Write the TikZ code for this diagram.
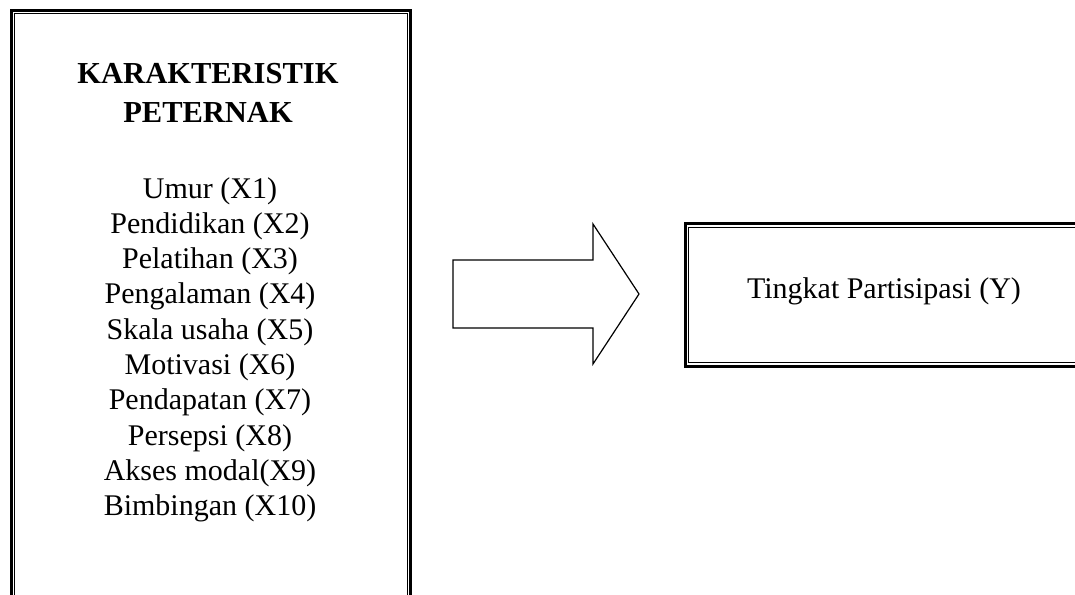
\documentclass[tikz,border=0pt]{standalone}
\usepackage{fontspec}
\setmainfont{Liberation Serif}
\begin{document}
\begin{tikzpicture}[x=1pt,y=-1pt,
  outerline/.style={line width=3pt},
  innerline/.style={line width=1pt},
  itemtext/.style={font=\fontsize{30}{34}\selectfont, anchor=base, inner sep=0pt},
  titletext/.style={font=\bfseries\fontsize{30.5}{42}\selectfont, anchor=base, inner sep=0pt},
  blockarrow/.style={line width=1.2pt, line join=miter}]
  \useasboundingbox (0,0) rectangle (1075,594);

  % left box: thick outer frame with a thin frame inside
  \node[outerline, draw, minimum width=399.5pt, minimum height=588pt, inner sep=0pt, anchor=north west]
    (kar) at (9.5,9.5) {};
  \draw[innerline] ([xshift=4.5pt,yshift=-4.5pt]kar.north west) rectangle ([xshift=-4.5pt,yshift=5pt]kar.south east);

  % title and list of characteristics
  \node[titletext] (t1) at (208,83) {KARAKTERISTIK};
  \node[titletext] (t2) at (208,122) {PETERNAK};
  \foreach \txt [count=\i from 0] in {Umur (X1), Pendidikan (X2), Pelatihan (X3), Pengalaman (X4),
      Skala usaha (X5), Motivasi (X6), Pendapatan (X7), Persepsi (X8), Akses modal(X9), Bimbingan (X10)}
    \node[itemtext] (x\i) at (210,198+35.3*\i) {\txt};

  % right box
  \node[outerline, draw, minimum width=397pt, minimum height=142.5pt, inner sep=0pt, anchor=north west]
    (y) at (683.5,222) {};
  \draw[innerline] ([xshift=4.5pt,yshift=-5pt]y.north west) rectangle ([xshift=-4.5pt,yshift=5pt]y.south east);
  \node[itemtext] (ylab) at (884,298) {Tingkat Partisipasi (Y)};

  % block arrow between the boxes
  \draw[blockarrow] (453,260) -- (593,260) -- (593,224) -- (639,294) -- (593,364) -- (593,328) -- (453,328) -- cycle;
\end{tikzpicture}
\end{document}
